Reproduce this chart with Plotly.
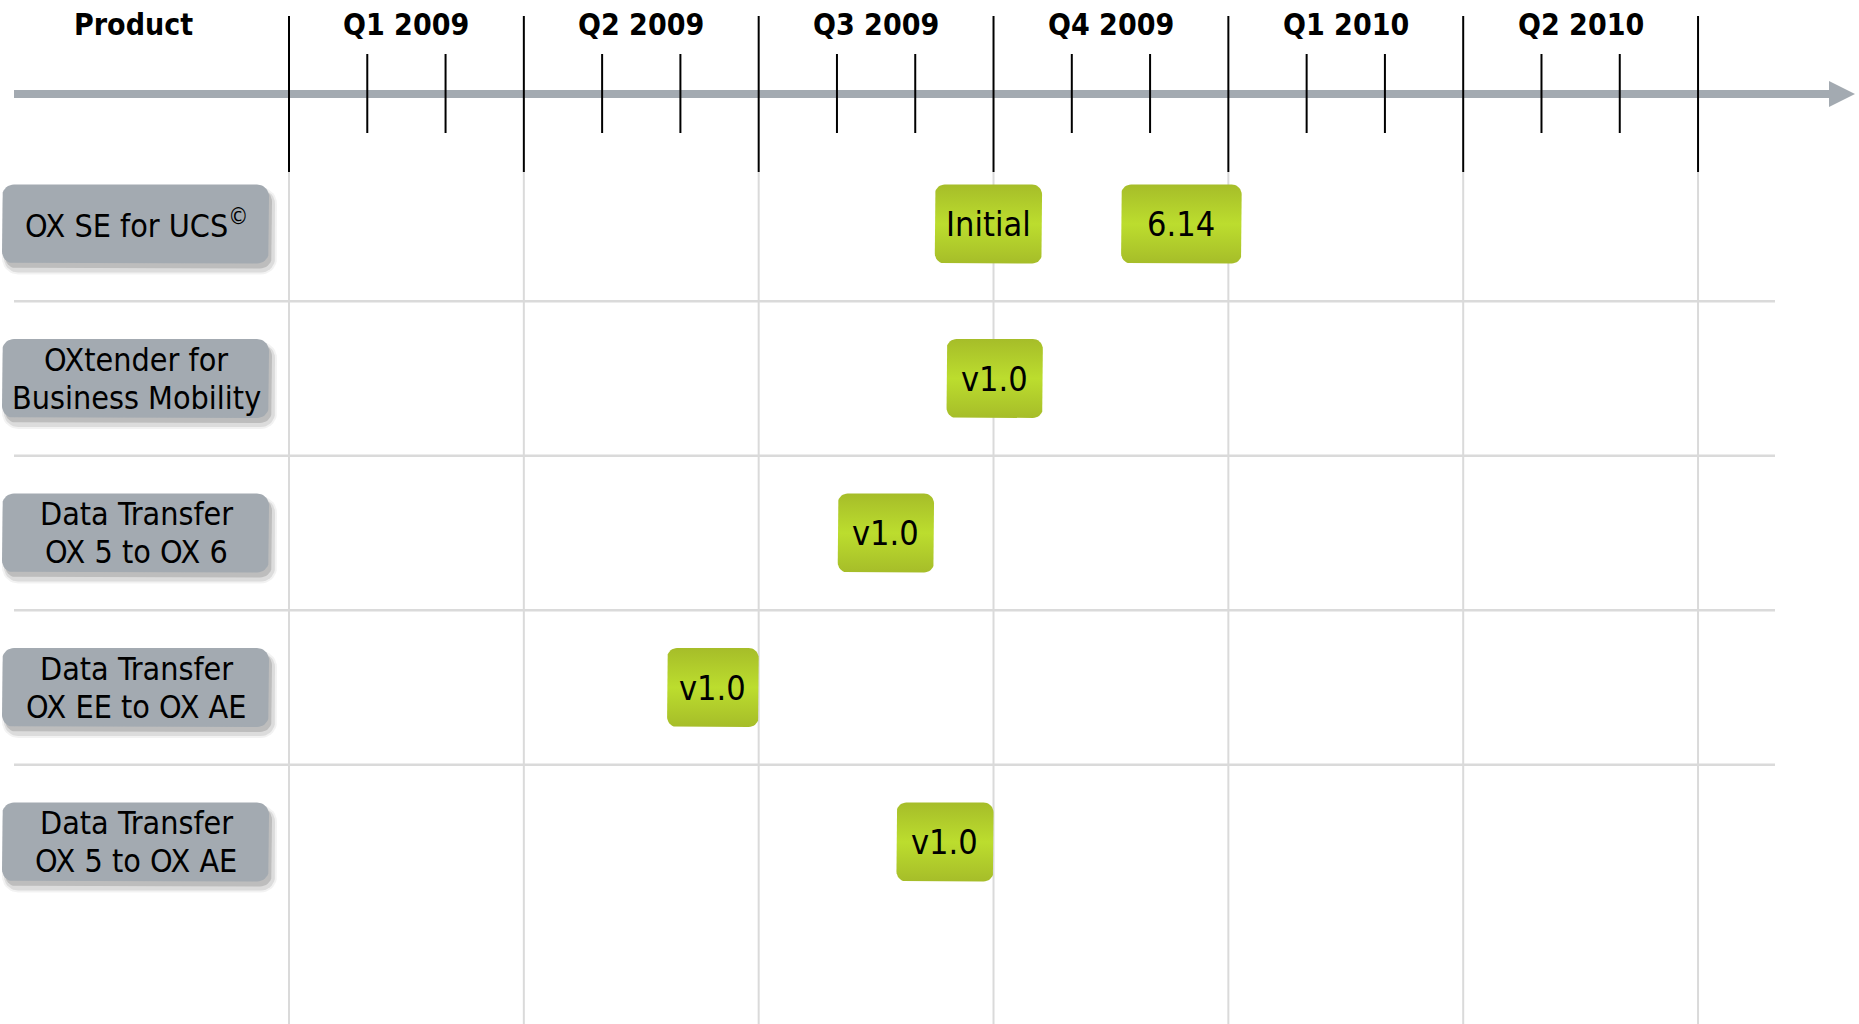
import numpy as np
import plotly.graph_objects as go

# ---------------- data ----------------
products = [
    "OX SE for UCS<sup>©</sup>",
    "OXtender for<br>Business Mobility",
    "Data Transfer<br>OX 5 to OX 6",
    "Data Transfer<br>OX EE to OX AE",
    "Data Transfer<br>OX 5 to OX AE",
]
quarters = ["Q1 2009", "Q2 2009", "Q3 2009", "Q4 2009", "Q1 2010", "Q2 2010"]
header_label = "Product"

# releases: product row index, label, start / end (months since Jan 2009)
rel_row = [0, 0, 1, 2, 3, 4]
rel_label = ["Initial", "6.14", "v1.0", "v1.0", "v1.0", "v1.0"]
rel_start = [8.25, 10.63, 8.40, 7.01, 4.83, 7.76]
rel_end = [9.62, 12.17, 9.63, 8.24, 6.00, 9.00]

# ---------------- geometry helpers ----------------
W, H = 1859, 1024
X0PX, MPX = 289.0, 78.28      # pixel of month 0, pixels per month
R0PX, RPX = 224.0, 154.5      # pixel of row 0 centre, pixels per row


def xd(px):
    return (px - X0PX) / MPX


def yd(py):
    return (py - R0PX) / RPX


def xp(m):
    return X0PX + m * MPX


def yp(r):
    return R0PX + r * RPX


def rrect(x0, x1, y0, y1, r, n=10):
    xs, ys = [], []
    corners = [
        (x1 - r, y0 + r, -90, 0),
        (x1 - r, y1 - r, 0, 90),
        (x0 + r, y1 - r, 90, 180),
        (x0 + r, y0 + r, 180, 270),
    ]
    for cx, cy, a0, a1 in corners:
        for a in np.linspace(np.radians(a0), np.radians(a1), n):
            xs.append(cx + r * np.cos(a))
            ys.append(cy + r * np.sin(a))
    xs.append(xs[0])
    ys.append(ys[0])
    return [xd(v) for v in xs], [yd(v) for v in ys]


FONT = "DejaVu Sans Condensed, Liberation Sans Narrow, DejaVu Sans, sans-serif"
GRID = "#dadada"
ARROW = "#a3aab1"
LABEL_BG = "#a3aab1"

fig = go.Figure()
shapes = []
annotations = []

n_q = len(quarters)
HALF_H = 39.5
LINE_GAP = 38  # px between wrapped label lines

# ---- grid lines ----
for q in range(n_q + 1):
    m = 3 * q
    shapes.append(dict(type="line", xref="x", yref="y", x0=m, x1=m,
                       y0=yd(172), y1=yd(H), line=dict(color=GRID, width=2), layer="below"))
for i in range(len(products) - 1):
    shapes.append(dict(type="line", xref="x", yref="y", x0=xd(14), x1=xd(1775),
                       y0=i + 0.5, y1=i + 0.5, line=dict(color=GRID, width=2.5), layer="below"))

# ---- timeline arrow ----
shapes.append(dict(type="line", xref="x", yref="y", x0=xd(14), x1=xd(1831),
                   y0=yd(94), y1=yd(94), line=dict(color=ARROW, width=8)))
shapes.append(dict(type="path", xref="x", yref="y",
                   path=f"M {xd(1829)} {yd(81)} L {xd(1855)} {yd(94)} L {xd(1829)} {yd(107)} Z",
                   fillcolor=ARROW, line=dict(width=0)))

# quarter boundaries and month ticks
for q in range(n_q + 1):
    m = 3 * q
    shapes.append(dict(type="line", xref="x", yref="y", x0=m, x1=m,
                       y0=yd(16), y1=yd(172), line=dict(color="black", width=2)))
for q in range(n_q):
    for k in (1, 2):
        m = 3 * q + k
        shapes.append(dict(type="line", xref="x", yref="y", x0=m, x1=m,
                           y0=yd(54), y1=yd(133), line=dict(color="black", width=2)))

# header texts
annotations.append(dict(x=xd(133), y=yd(24), xref="x", yref="y", text=f"<b>{header_label}</b>",
                        showarrow=False, font=dict(family=FONT, size=30, color="black")))
for q, lab in enumerate(quarters):
    annotations.append(dict(x=3 * q + 1.5, y=yd(24), xref="x", yref="y", text=f"<b>{lab}</b>",
                            showarrow=False, font=dict(family=FONT, size=30, color="black")))

# ---- product label boxes ----
for i, p in enumerate(products):
    cy = yp(i)
    for dx, dy, grow, a in [(4, 7, 4, 0.05), (4, 7, 2, 0.09), (3, 5, 0, 0.14)]:
        sx, sy = rrect(2 + dx - grow, 269 + dx + grow, cy - HALF_H + dy - grow,
                       cy + HALF_H + dy + grow, 12 + grow)
        fig.add_trace(go.Scatter(x=sx, y=sy, mode="lines", fill="toself",
                                 fillcolor=f"rgba(0,0,0,{a})", line=dict(width=0),
                                 hoverinfo="skip", showlegend=False))
    bx, by = rrect(2, 269, cy - HALF_H, cy + HALF_H, 12)
    fig.add_trace(go.Scatter(x=bx, y=by, mode="lines", fill="toself", fillcolor=LABEL_BG,
                             line=dict(width=0), hoverinfo="skip", showlegend=False))
    lines = p.split("<br>")
    n = len(lines)
    for j, ln in enumerate(lines):
        off = (j - (n - 1) / 2) * LINE_GAP
        annotations.append(dict(x=xd(136), y=yd(cy + off), xref="x", yref="y", text=ln,
                                showarrow=False, font=dict(family=FONT, size=32, color="black")))

# ---- release boxes ----
for r, lab, s, e in zip(rel_row, rel_label, rel_start, rel_end):
    cy = yp(r)
    bx, by = rrect(xp(s), xp(e), cy - HALF_H, cy + HALF_H, 10)
    fig.add_trace(go.Scatter(
        x=bx, y=by, mode="lines", fill="toself",
        fillgradient=dict(type="vertical",
                          colorscale=[[0, "#a6bd29"], [0.5, "#bcdd2e"], [1, "#a6bd29"]]),
        line=dict(width=0), hoverinfo="skip", showlegend=False))
    annotations.append(dict(x=(s + e) / 2, y=r, xref="x", yref="y", text=lab, showarrow=False,
                            font=dict(family=FONT, size=34, color="black")))

fig.update_layout(
    width=W, height=H,
    margin=dict(l=0, r=0, t=0, b=0),
    paper_bgcolor="white", plot_bgcolor="white",
    xaxis=dict(range=[xd(0), xd(W)], visible=False, fixedrange=True),
    yaxis=dict(range=[yd(H), yd(0)], visible=False, fixedrange=True),
    shapes=shapes, annotations=annotations,
    showlegend=False,
)

fig.write_html("out.html", config={"displayModeBar": False},
               post_script="document.body.style.margin='0';document.body.style.overflow='hidden';")
